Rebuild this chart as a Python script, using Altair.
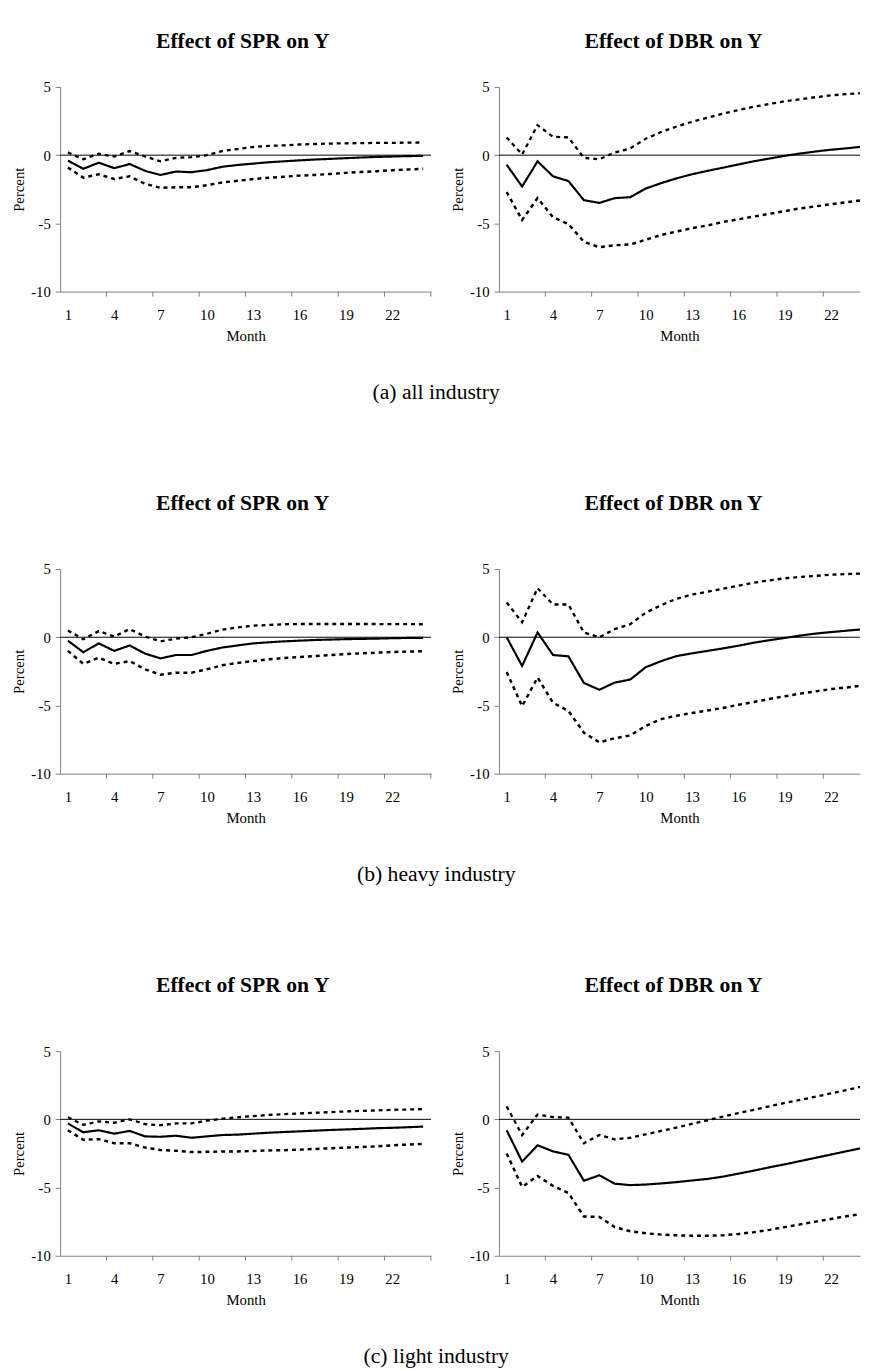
import altair as alt
import pandas as pd

months = list(range(1, 25))
x_labels = [1, 4, 7, 10, 13, 16, 19, 22]
y_ticks = [-10, -5, 0, 5]

# (a) all industry
spr_all_est = [-0.4, -1.0, -0.55, -0.95, -0.65, -1.15, -1.45, -1.2, -1.25, -1.1, -0.85, -0.72,
               -0.62, -0.52, -0.45, -0.38, -0.32, -0.27, -0.22, -0.17, -0.13, -0.1, -0.07, -0.05]
spr_all_up = [0.2, -0.3, 0.1, -0.1, 0.3, -0.1, -0.45, -0.2, -0.15, 0.0, 0.3, 0.45,
              0.6, 0.68, 0.72, 0.78, 0.82, 0.85, 0.87, 0.88, 0.9, 0.9, 0.92, 0.93]
spr_all_lo = [-0.9, -1.65, -1.4, -1.75, -1.55, -2.1, -2.4, -2.35, -2.35, -2.2, -2.0, -1.88,
              -1.75, -1.65, -1.58, -1.5, -1.45, -1.38, -1.3, -1.23, -1.18, -1.1, -1.05, -1.0]
dbr_all_est = [-0.7, -2.3, -0.45, -1.55, -1.9, -3.3, -3.5, -3.15, -3.08, -2.45, -2.05, -1.7,
               -1.4, -1.15, -0.92, -0.68, -0.45, -0.25, -0.05, 0.12, 0.27, 0.4, 0.5, 0.62]
dbr_all_up = [1.3, 0.05, 2.2, 1.35, 1.3, -0.2, -0.3, 0.2, 0.5, 1.2, 1.7, 2.1,
              2.45, 2.75, 3.05, 3.3, 3.55, 3.75, 3.95, 4.1, 4.25, 4.38, 4.48, 4.55]
dbr_all_lo = [-2.7, -4.75, -3.15, -4.55, -5.05, -6.35, -6.75, -6.6, -6.55, -6.2, -5.85, -5.6,
              -5.35, -5.15, -4.9, -4.7, -4.5, -4.3, -4.1, -3.9, -3.75, -3.6, -3.45, -3.3]

# (b) heavy industry
spr_hvy_est = [-0.25, -1.1, -0.45, -1.0, -0.6, -1.2, -1.55, -1.3, -1.3, -1.0, -0.75, -0.6,
               -0.45, -0.37, -0.3, -0.25, -0.2, -0.17, -0.14, -0.12, -0.1, -0.07, -0.05, -0.04]
spr_hvy_up = [0.5, -0.15, 0.45, 0.05, 0.6, 0.05, -0.3, -0.1, 0.0, 0.25, 0.55, 0.72,
              0.85, 0.9, 0.95, 0.97, 0.97, 0.97, 0.97, 0.97, 0.97, 0.96, 0.96, 0.95]
spr_hvy_lo = [-1.0, -1.95, -1.5, -1.95, -1.75, -2.35, -2.75, -2.6, -2.6, -2.35, -2.05, -1.88,
              -1.75, -1.62, -1.52, -1.45, -1.38, -1.3, -1.23, -1.18, -1.13, -1.08, -1.05, -1.03]
dbr_hvy_est = [0.0, -2.1, 0.35, -1.3, -1.4, -3.35, -3.85, -3.32, -3.1, -2.2, -1.75, -1.38,
               -1.18, -1.0, -0.82, -0.62, -0.4, -0.22, -0.05, 0.12, 0.27, 0.38, 0.48, 0.58]
dbr_hvy_up = [2.55, 1.1, 3.6, 2.4, 2.4, 0.35, 0.0, 0.6, 0.95, 1.8, 2.35, 2.82,
              3.13, 3.33, 3.55, 3.78, 4.0, 4.17, 4.32, 4.42, 4.5, 4.58, 4.63, 4.67]
dbr_hvy_lo = [-2.55, -5.05, -2.95, -4.8, -5.4, -7.0, -7.7, -7.4, -7.2, -6.5, -6.0, -5.75,
              -5.55, -5.37, -5.18, -4.95, -4.75, -4.52, -4.33, -4.13, -3.97, -3.8, -3.68, -3.55]

# (c) light industry
spr_lgt_est = [-0.3, -0.95, -0.8, -1.05, -0.85, -1.25, -1.28, -1.2, -1.35, -1.25, -1.15, -1.12,
               -1.05, -0.98, -0.93, -0.88, -0.83, -0.78, -0.74, -0.7, -0.65, -0.62, -0.58, -0.53]
spr_lgt_up = [0.15, -0.4, -0.15, -0.25, 0.0, -0.35, -0.43, -0.3, -0.3, -0.1, 0.05, 0.15,
              0.24, 0.32, 0.38, 0.43, 0.48, 0.53, 0.58, 0.62, 0.65, 0.7, 0.72, 0.75]
spr_lgt_lo = [-0.8, -1.5, -1.45, -1.75, -1.75, -2.07, -2.25, -2.3, -2.4, -2.38, -2.36, -2.35,
              -2.32, -2.28, -2.26, -2.22, -2.17, -2.12, -2.07, -2.03, -1.98, -1.9, -1.85, -1.8]
dbr_lgt_est = [-0.8, -3.1, -1.9, -2.35, -2.6, -4.5, -4.1, -4.72, -4.82, -4.78, -4.7, -4.6,
               -4.48, -4.37, -4.2, -3.98, -3.76, -3.52, -3.3, -3.06, -2.82, -2.58, -2.34, -2.1]
dbr_lgt_up = [0.95, -1.15, 0.35, 0.17, 0.12, -1.75, -1.15, -1.47, -1.35, -1.1, -0.85, -0.6,
              -0.33, -0.07, 0.2, 0.46, 0.7, 0.95, 1.2, 1.42, 1.66, 1.9, 2.15, 2.4]
dbr_lgt_lo = [-2.5, -4.95, -4.15, -4.88, -5.4, -7.12, -7.15, -7.9, -8.2, -8.35, -8.45, -8.5,
              -8.53, -8.53, -8.5, -8.4, -8.27, -8.1, -7.9, -7.7, -7.5, -7.3, -7.1, -6.93]

FONT = "Liberation Serif"
AXIS_COLOR = "#7f7f7f"
H = 208
PX_PER_MONTH = 15.7
LEFT_W = 377
RIGHT_W = 367


def panel(title, est, up, lo, width, dx, title_offset):
    xmax = 0.5 + width / PX_PER_MONTH
    rows = []
    for name, vals in (("est", est), ("upper", up), ("lower", lo)):
        for m, v in zip(months, vals):
            rows.append({"month": m, "value": v, "series": name})
    df = pd.DataFrame(rows)
    xscale = alt.Scale(domain=[0.5, xmax], nice=False, zero=False)
    xaxis = alt.Axis(values=x_labels, ticks=False, title="Month", grid=False,
                     labelPadding=16, titlePadding=7, labelFlush=False)
    yscale = alt.Scale(domain=[-10, 5], nice=False, zero=False)
    yaxis = alt.Axis(values=y_ticks, labelExpr="'' + datum.value", title="Percent",
                     grid=False, tickSize=5, labelPadding=5, titlePadding=4)

    zero = alt.Chart(pd.DataFrame({"z": [0]})).mark_rule(color="black", strokeWidth=1).encode(
        y=alt.Y("z:Q", scale=yscale, axis=yaxis)
    )
    lines = alt.Chart(df).mark_line(clip=True, color="black").encode(
        x=alt.X("month:Q", scale=xscale, axis=xaxis),
        y=alt.Y("value:Q", scale=yscale, axis=yaxis),
        detail="series:N",
        strokeDash=alt.StrokeDash("series:N", legend=None,
                                  scale=alt.Scale(domain=["est", "upper", "lower"],
                                                  range=[[1, 0], [4, 4], [4, 4]])),
        strokeWidth=alt.StrokeWidth("series:N", legend=None,
                                    scale=alt.Scale(domain=["est", "upper", "lower"],
                                                    range=[2.2, 2.5, 2.5])),
    )
    tick_pos = [m + 0.5 for m in months if m % 3 == 0 and m + 0.5 <= xmax]
    ticks = alt.Chart(pd.DataFrame({"t": tick_pos})).mark_rule(color=AXIS_COLOR, strokeWidth=1).encode(
        x=alt.X("t:Q", scale=xscale, axis=xaxis),
        y=alt.value(H),
        y2=alt.value(H + 5),
    )
    return alt.layer(zero, lines, ticks).properties(
        width=width, height=H,
        title=alt.TitleParams(title, font=FONT, fontSize=22, fontWeight="bold", anchor="middle",
                              frame="group", dx=dx, offset=title_offset, color="black"),
    )


def row(caption, spr, dbr, title_offset):
    left = panel("Effect of SPR on Y", *spr, LEFT_W, -3, title_offset)
    right = panel("Effect of DBR on Y", *dbr, RIGHT_W, -6, title_offset)
    return alt.hconcat(left, right, spacing=19).properties(
        title=alt.TitleParams(caption, orient="bottom", font=FONT, fontSize=22, fontWeight="normal",
                              anchor="middle", offset=39, color="black")
    )


chart = alt.vconcat(
    row("(a)  all industry", (spr_all_est, spr_all_up, spr_all_lo), (dbr_all_est, dbr_all_up, dbr_all_lo), 28),
    row("(b)  heavy industry", (spr_hvy_est, spr_hvy_up, spr_hvy_lo), (dbr_hvy_est, dbr_hvy_up, dbr_hvy_lo), 48),
    row("(c)  light industry", (spr_lgt_est, spr_lgt_up, spr_lgt_lo), (dbr_lgt_est, dbr_lgt_up, dbr_lgt_lo), 48),
    spacing=91,
).properties(
    padding={"left": 4, "top": 11, "right": 0, "bottom": 0},
).configure_view(stroke=None).configure_axis(
    domainColor=AXIS_COLOR, tickColor=AXIS_COLOR, labelColor="black", titleColor="black",
    labelFont=FONT, titleFont=FONT, labelFontSize=15, titleFontSize=15, titleFontWeight="normal",
)

chart.save("out.html", embed_options={"renderer": "svg", "actions": False})
